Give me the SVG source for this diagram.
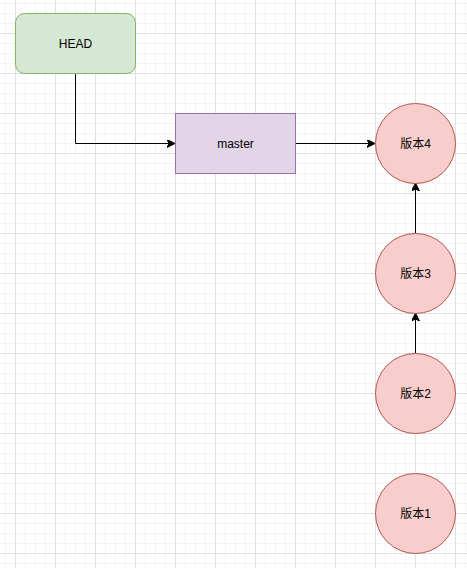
<svg xmlns="http://www.w3.org/2000/svg" width="467" height="568" viewBox="0 0 467 568">
  <defs>
    <pattern id="minor" patternUnits="userSpaceOnUse" x="5" y="3" width="10" height="10">
      <rect x="0" y="0" width="10" height="1" fill="#f4f4f4"/>
      <rect x="0" y="0" width="1" height="10" fill="#f4f4f4"/>
    </pattern>
    <pattern id="major" patternUnits="userSpaceOnUse" x="15" y="33" width="40" height="40">
      <rect x="0" y="0" width="40" height="1" fill="#e0e0e0"/>
      <rect x="0" y="0" width="1" height="40" fill="#e0e0e0"/>
    </pattern>
    <marker id="arrow" markerUnits="userSpaceOnUse" markerWidth="10" markerHeight="10" refX="8" refY="4" orient="auto">
      <path d="M0,0 L8,4 L0,8 L2,4 Z" fill="#000000" stroke="#000000" stroke-width="1"/>
    </marker>
    <style>
      .lbl { font-family: "Liberation Sans", "Noto Sans CJK SC", sans-serif; font-size: 12px; fill: #000000; text-anchor: middle; dominant-baseline: central; }
      .edge { fill: none; stroke: #000000; stroke-width: 1; marker-end: url(#arrow); }
      .ver { fill: #f8cecc; stroke: #b85450; stroke-width: 1; }
    </style>
  </defs>
  <rect width="467" height="568" fill="#ffffff"/>
  <rect width="467" height="568" fill="url(#minor)"/>
  <rect width="467" height="568" fill="url(#major)"/>

  <g id="connectors">
    <path class="edge" d="M75.5,73 L75.5,143.5 L175,143.5"/>
    <path class="edge" d="M295,143.5 L375,143.5"/>
    <path class="edge" d="M415.5,233 L415.5,183"/>
    <path class="edge" d="M415.5,353 L415.5,313"/>
  </g>

  <g id="head">
    <rect x="15.5" y="13.5" width="120" height="60" rx="9" ry="9" fill="#d5e8d4" stroke="#82b366" stroke-width="1"/>
    <text class="lbl" x="75.5" y="43.5">HEAD</text>
  </g>
  <g id="master">
    <rect x="175.5" y="113.5" width="120" height="60" fill="#e1d5e7" stroke="#9673a6" stroke-width="1"/>
    <text class="lbl" x="235.5" y="143.5">master</text>
  </g>
  <g id="v4">
    <circle class="ver" cx="415.5" cy="143.5" r="40"/>
    <text class="lbl" x="415.5" y="143.5">版本4</text>
  </g>
  <g id="v3">
    <circle class="ver" cx="415.5" cy="273.5" r="40"/>
    <text class="lbl" x="415.5" y="273.5">版本3</text>
  </g>
  <g id="v2">
    <circle class="ver" cx="415.5" cy="393.5" r="40"/>
    <text class="lbl" x="415.5" y="393.5">版本2</text>
  </g>
  <g id="v1">
    <circle class="ver" cx="415.5" cy="513.5" r="40"/>
    <text class="lbl" x="415.5" y="513.5">版本1</text>
  </g>
</svg>
